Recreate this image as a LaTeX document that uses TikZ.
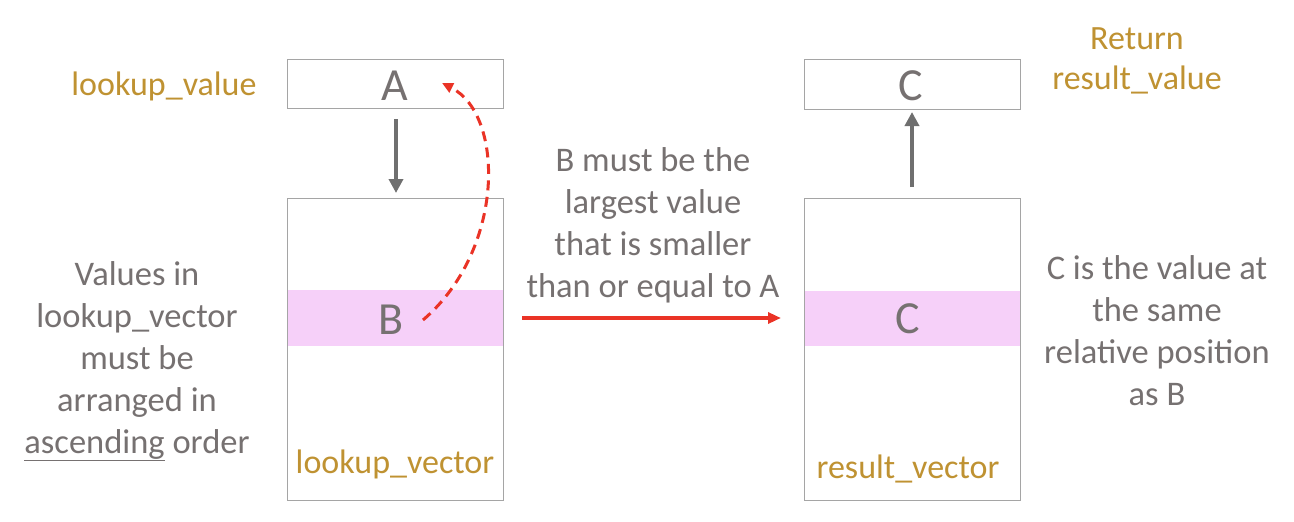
\documentclass[tikz,border=0pt]{standalone}
\usepackage{fontspec}
\setmainfont{Carlito}
\usetikzlibrary{arrows.meta}
\definecolor{gold}{HTML}{BF9232}
\definecolor{txtgray}{HTML}{767171}
\definecolor{boxgray}{HTML}{A5A5A5}
\definecolor{pinkband}{HTML}{F6D0F9}
\definecolor{arrred}{HTML}{EA3326}
\definecolor{arrgray}{HTML}{6F6F6F}
\tikzset{
  txt/.style={inner sep=0pt, align=center, text=txtgray, font=\fontsize{34.5}{42}\selectfont},
  goldtxt/.style={inner sep=0pt, align=center, text=gold, font=\fontsize{34}{40.5}\selectfont},
  bigletter/.style={inner sep=0pt, text=txtgray, font=\fontsize{46}{52}\selectfont},
  cell/.style={draw=boxgray, line width=1pt},
  band/.style={fill=pinkband},
  grayarrow/.style={draw=arrgray, line width=4pt, -{Triangle[width=14pt,length=14pt]}},
  redarrow/.style={draw=arrred, line width=3.6pt, -{Triangle[width=11pt,length=13pt]}},
  reddash/.style={draw=arrred, line width=3pt, dash pattern=on 10pt off 6.5pt, -{Triangle[width=10pt,length=11pt]}}
}
\begin{document}
\begin{tikzpicture}[x=1pt,y=-1pt]
\useasboundingbox (0,0) rectangle (1294,522);
% left column
\draw[cell] (287,59) rectangle (503,108);
\fill[band] (287,290) rectangle (503,346);
\draw[cell] (287,198) rectangle (503,500);
% right column
\draw[cell] (804,59) rectangle (1020,109);
\fill[band] (804,291) rectangle (1020,346);
\draw[cell] (804,198) rectangle (1020,500);
% letters
\node[bigletter] (A) at (395,86) {A};
\node[bigletter] (B) at (391,320) {B};
\node[bigletter] (C1) at (911,86) {C};
\node[bigletter] (C2) at (908,319) {C};
% gold labels
\node[goldtxt] (lv) at (164,86) {lookup\_value};
\node[goldtxt] (rv) at (1137,61) {Return\\result\_value};
\node[goldtxt] (lvec) at (395,464) {lookup\_vector};
\node[goldtxt] (rvec) at (908,469) {result\_vector};
% gray texts
\node[txt] (cond) at (653,225) {B must be the\\largest value\\that is smaller\\than or equal to A};
\node[txt] (left) at (137,361) {Values in\\lookup\_vector\\must be\\arranged in\\\underline{ascending} order};
\node[txt] (right) at (1157,331) {C is the value at\\the same\\relative position\\as B};
% arrows
\coordinate (d1) at (396,119);
\coordinate (d2) at (396,193);
\draw[grayarrow] (d1) -- (d2);
\coordinate (u1) at (912,187);
\coordinate (u2) at (912,112);
\draw[grayarrow] (u1) -- (u2);
\coordinate (r1) at (522,318);
\coordinate (r2) at (781,318);
\draw[redarrow] (r1) -- (r2);
\coordinate (c1) at (423,320);
\coordinate (c2) at (442,83);
\draw[reddash] (c1) .. controls (505,250) and (505,115) .. (c2);
\end{tikzpicture}
\end{document}
